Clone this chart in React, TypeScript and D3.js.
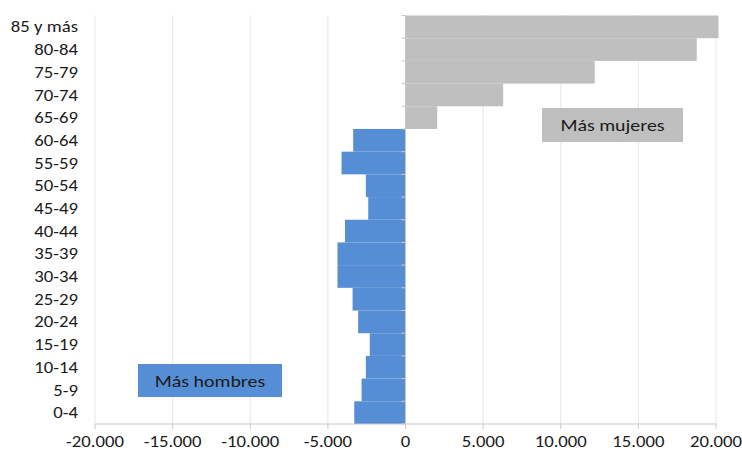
import React from "react";
import * as d3 from "d3";

const categories = ["0-4","5-9","10-14","15-19","20-24","25-29","30-34","35-39","40-44","45-49","50-54","55-59","60-64","65-69","70-74","75-79","80-84","85 y más"];
const values = [-3300,-2830,-2555,-2300,-3050,-3410,-4380,-4380,-3900,-2400,-2555,-4120,-3370,2040,6290,12190,18760,20160];
const xTicks = [-20000,-15000,-10000,-5000,0,5000,10000,15000,20000];

const W = 742, H = 452;
const left = 95, right = 716, top = 15.5, bottom = 424;
const BLUE = "#558ed5", GRAY = "#bfbfbf";
const FONT = "Carlito, Lato, 'Open Sans', sans-serif";
const SX = 1.17;

function T({ x, y, anchor, size, children }: { x: number; y: number; anchor: string; size: number; children: React.ReactNode }) {
  return (
    <g transform={`translate(${x},${y}) scale(${SX},1)`}>
      <text x={0} y={0} dy="0.35em" textAnchor={anchor} fontSize={size} fill="#1a1a1a" fontFamily={FONT}>{children}</text>
    </g>
  );
}

export default function App() {
  const x = d3.scaleLinear().domain([-20000, 20000]).range([left, right]);
  const y = d3.scaleBand().domain([...categories].reverse()).range([top, bottom]).padding(0);
  const fmt = (v: number) => d3.format(",")(v).replace(/,/g, ".").replace("−", "-");
  const x0 = x(0);
  return (
    <svg width={W} height={H} style={{ position: "absolute", left: 0, top: 0, background: "#fff" }}>
      {xTicks.filter(t => t !== 0).map(t => (
        <line key={"g" + t} x1={x(t)} x2={x(t)} y1={top} y2={bottom} stroke="#e6e6e6" strokeWidth={1} />
      ))}
      {categories.map((c, i) => {
        const v = values[i];
        const y0 = y(c)!;
        return (
          <rect key={c} x={Math.min(x(v), x0)} y={y0} width={Math.abs(x(v) - x0)} height={y.bandwidth()}
            fill={v < 0 ? BLUE : GRAY} />
        );
      })}
      <line x1={left} x2={right} y1={bottom} y2={bottom} stroke="#c8c8c8" />
      {xTicks.map(t => (
        <g key={"t" + t}>
          <line x1={x(t)} x2={x(t)} y1={bottom} y2={bottom + 5} stroke="#c8c8c8" />
          <T x={x(t)} y={441} anchor="middle" size={16}>{fmt(t)}</T>
        </g>
      ))}
      <line x1={x0} x2={x0} y1={top} y2={bottom} stroke="#c8c8c8" />
      {[...categories.map(c => y(c)!), bottom].map((yy, i) => (
        <line key={"yt" + i} x1={x0 - 4} x2={x0} y1={yy} y2={yy} stroke="#c8c8c8" />
      ))}
      {categories.map(c => (
        <T key={"l" + c} x={78} y={y(c)! + y.bandwidth() / 2} anchor="end" size={16}>{c}</T>
      ))}
      <rect x={138} y={364} width={144} height={33} fill={BLUE} />
      <T x={210} y={381} anchor="middle" size={17}>Más hombres</T>
      <rect x={542} y={108} width={141} height={34} fill={GRAY} />
      <T x={612.5} y={125} anchor="middle" size={17}>Más mujeres</T>
    </svg>
  );
}
